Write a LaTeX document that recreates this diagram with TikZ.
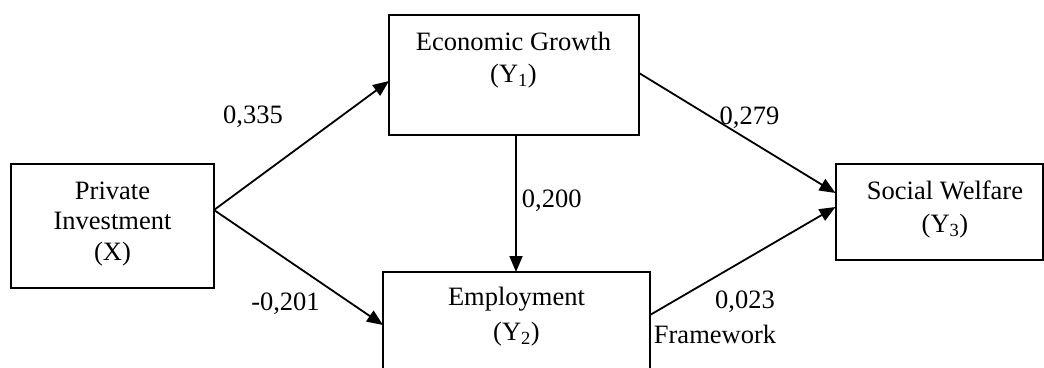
\documentclass[tikz,border=0pt]{standalone}
\usepackage{fontspec}
\setmainfont{Liberation Serif}
\usetikzlibrary{arrows.meta}
\tikzset{
  box/.style={draw, line width=2pt, rectangle, inner sep=0pt, outer sep=0pt},
  boxtext/.style={anchor=north, align=center, inner sep=0pt, font=\fontsize{26.5}{32}\selectfont},
  coef/.style={anchor=base, inner sep=0pt, font=\fontsize{26.5}{32}\selectfont},
  arr/.style={line width=1.8pt, -{Triangle[length=16pt,width=13pt]}},
}
\begin{document}
\begin{tikzpicture}[x=1pt,y=-1pt]
\useasboundingbox (0,0) rectangle (1044,367);
\begin{scope}
\clip (0,0) rectangle (1044,367);
% boxes
\node[box, minimum width=203pt, minimum height=124pt] (pi) at (112.5,226) {};
\node[box, minimum width=250pt, minimum height=120pt] (eg) at (514,75) {};
\node[box, minimum width=267pt, minimum height=150pt] (emp) at (516.5,347) {};
\node[box, minimum width=207pt, minimum height=96pt] (sw) at (939,212) {};
% box texts
\node[boxtext] (pit) at (112.5,182) {Private\\[-2pt]Investment\\[-1pt](X)};
\node[boxtext] (egt) at (513.5,32) {Economic Growth\\(Y\textsubscript{1})};
\node[boxtext] (empt) at (516.5,287) {Employment\\[3pt](Y\textsubscript{2})};
\node[boxtext] (swt) at (945,181) {Social Welfare\\[1pt](Y\textsubscript{3})};
% connectors
\draw[arr] ([yshift=16pt]pi.east) -- ([yshift=-6pt]eg.west);
\draw[arr] ([yshift=16pt]pi.east) -- ([yshift=22pt]emp.west);
\draw[arr] ([xshift=2pt]eg.south) -- ([xshift=-0.5pt]emp.north);
\draw[arr] ([yshift=2pt]eg.east) -- ([yshift=19pt]sw.west);
\draw[arr] ([yshift=32pt]emp.east) -- ([yshift=5pt]sw.west);
% coefficients
\node[coef] (c1) at (253,123) {0,335};
\node[coef] (c2) at (285.5,310) {-0,201};
\node[coef] (c3) at (551.7,207) {0,200};
\node[coef] (c4) at (749.5,124) {0,279};
\node[coef] (c5) at (745,308) {0,023};
\node[coef] (fw) at (715,343) {Framework};
\end{scope}
\end{tikzpicture}
\end{document}
